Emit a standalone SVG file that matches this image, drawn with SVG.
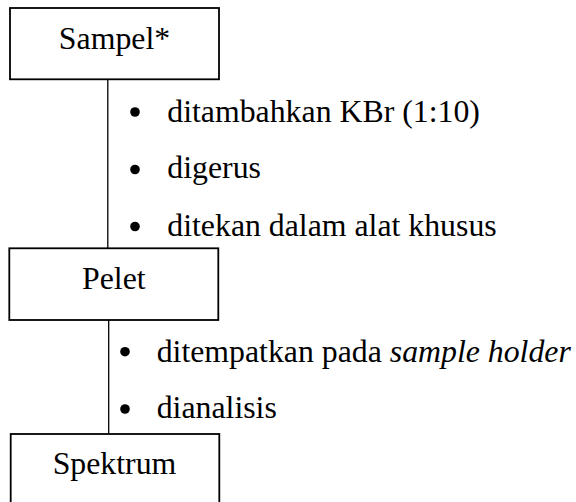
<svg xmlns="http://www.w3.org/2000/svg" width="576" height="502" viewBox="0 0 576 502">
<style>
.box{fill:#fff;stroke:#000;stroke-width:1.8}
.con{stroke:#000;stroke-width:1.3;fill:none}
.t{font-family:"Liberation Serif","Times New Roman",serif;font-size:31.8px;fill:#000}
.c{text-anchor:middle}
.dot{fill:#000}
</style>
<rect width="576" height="502" fill="#fff"/>
<g id="connectors">
<line class="con" x1="107.8" y1="79" x2="107.8" y2="248.5"/>
<line class="con" x1="108.7" y1="320" x2="108.7" y2="434"/>
</g>
<g id="node-sampel">
<rect class="box" x="10" y="8" width="209" height="71.3"/>
<text class="t c" x="114.5" y="49">Sampel*</text>
</g>
<g id="steps-1">
<circle class="dot" cx="135" cy="112" r="4.8"/>
<text class="t" x="167.3" y="121.7">ditambahkan KBr (1:10)</text>
<circle class="dot" cx="135" cy="169.5" r="4.8"/>
<text class="t" x="167.3" y="178">digerus</text>
<circle class="dot" cx="135" cy="226.5" r="4.8"/>
<text class="t" x="167.3" y="235.5">ditekan dalam alat khusus</text>
</g>
<g id="node-pelet">
<rect class="box" x="9.3" y="248.3" width="209" height="71.7"/>
<text class="t c" x="113.8" y="289.3">Pelet</text>
</g>
<g id="steps-2">
<circle class="dot" cx="125" cy="351.7" r="4.8"/>
<text class="t" x="156.7" y="361.7">ditempatkan pada <tspan font-style="italic">sample holder</tspan></text>
<circle class="dot" cx="125" cy="409" r="4.8"/>
<text class="t" x="156.7" y="418.3">dianalisis</text>
</g>
<g id="node-spektrum">
<rect class="box" x="10.7" y="434" width="208.6" height="80"/>
<text class="t c" x="114.5" y="474.3">Spektrum</text>
</g>
</svg>
